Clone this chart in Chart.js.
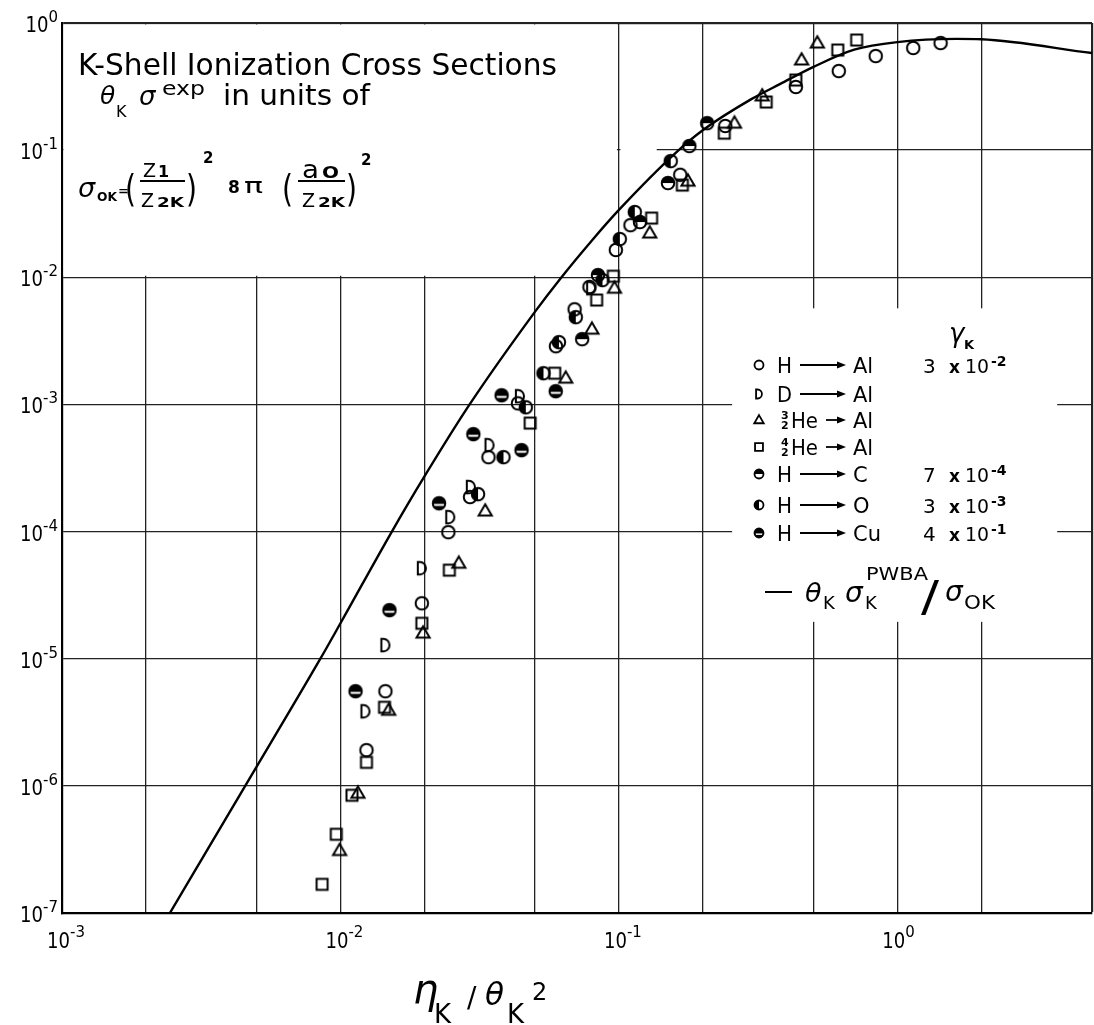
<!DOCTYPE html>
<html>
<head>
<meta charset="utf-8">
<script src="https://cdn.jsdelivr.net/npm/chart.js@4.4.1/dist/chart.umd.min.js"></script>
<style>
  html, body { margin: 0; padding: 0; background: #fff; }
</style>
</head>
<body>
<canvas id="myChart" width="1094" height="1025"></canvas>
<script>
// axis decades and grid positions
const xExponents = [-3, -2, -1, 0];
const yExponents = [0, -1, -2, -3, -4, -5, -6, -7];
const xGrid = [0.001, 0.002, 0.005, 0.01, 0.02, 0.05, 0.1, 0.2, 0.5, 1, 2, 5];
const yGrid = [1, 1e-1, 1e-2, 1e-3, 1e-4, 1e-5, 1e-6, 1e-7];

// PWBA theory curve
const pwbaX = [0.00244, 0.00455, 0.00847, 0.01, 0.0153, 0.02, 0.0291, 0.05, 0.0617, 0.08, 0.1, 0.161, 0.2, 0.3, 0.38, 0.5, 0.7, 1.0, 1.63, 2.0, 5.0];
const pwbaY = [1e-7, 1e-6, 1e-5, 1.9e-5, 1e-4, 2.7e-4, 1e-3, 5.37e-3, 9.8e-3, 1.95e-2, 3.39e-2, 9.66e-2, 0.1435, 0.253, 0.332, 0.452, 0.617, 0.708, 0.75, 0.745, 0.58];

// measured points
const hAlX = [0.0124, 0.0145, 0.0196, 0.0244, 0.0292, 0.034, 0.0434, 0.0594, 0.0693, 0.0784, 0.0975, 0.11, 0.166, 0.241, 0.432, 0.616, 0.836, 1.14, 1.43];
const hAlY = [1.91e-6, 5.55e-6, 2.73e-5, 9.9e-5, 1.87e-4, 3.85e-4, 1.02e-3, 2.87e-3, 5.6e-3, 8.4e-3, 1.64e-2, 2.57e-2, 6.4e-2, 0.155, 0.314, 0.419, 0.55, 0.636, 0.696];

const dAlX = [0.0123, 0.0145, 0.0196, 0.0248, 0.0294, 0.0343, 0.0441, 0.0795];
const dAlY = [3.86e-6, 1.28e-5, 5.15e-5, 1.3e-4, 2.24e-4, 4.78e-4, 1.16e-3, 8.2e-3];

const he3AlX = [0.00993, 0.01155, 0.0149, 0.0198, 0.0266, 0.0331, 0.0644, 0.08, 0.0964, 0.129, 0.177, 0.26, 0.327, 0.453, 0.516];
const he3AlY = [3.1e-7, 8.75e-7, 3.93e-6, 1.59e-5, 5.64e-5, 1.45e-4, 1.61e-3, 3.91e-3, 8.2e-3, 2.23e-2, 5.7e-2, 0.163, 0.267, 0.512, 0.696];

const he4AlX = [0.00859, 0.00966, 0.011, 0.0124, 0.0144, 0.0196, 0.0246, 0.048, 0.0588, 0.0832, 0.0955, 0.131, 0.169, 0.239, 0.338, 0.432, 0.611, 0.714];
const he4AlY = [1.68e-7, 4.16e-7, 8.43e-7, 1.53e-6, 4.15e-6, 1.9e-5, 4.97e-5, 7.13e-4, 1.76e-3, 6.62e-3, 1.02e-2, 2.92e-2, 5.31e-2, 0.136, 0.239, 0.356, 0.613, 0.735];

const hCX = [0.0738, 0.0841, 0.119, 0.15, 0.179, 0.2075];
const hCY = [3.26e-3, 1.04e-2, 2.72e-2, 5.51e-2, 0.1077, 0.163];

const hOX = [0.0312, 0.0385, 0.0463, 0.0536, 0.0609, 0.07, 0.0873, 0.1007, 0.114, 0.1535];
const hOY = [1.97e-4, 3.85e-4, 9.5e-4, 1.76e-3, 3.09e-3, 4.86e-3, 9.5e-3, 2.0e-2, 3.26e-2, 8.2e-2];

const hCuX = [0.01133, 0.015, 0.0226, 0.03, 0.0379, 0.0447, 0.0593];
const hCuY = [5.55e-6, 2.41e-5, 1.67e-4, 5.84e-4, 1.18e-3, 4.37e-4, 1.27e-3];

// legend rows
const projectiles = ['H', 'D', '3He', '4He', 'H', 'H', 'H'];
const targets = ['Al', 'Al', 'Al', 'Al', 'C', 'O', 'Cu'];
const gammaMant = ['3', '', '', '', '7', '3', '4'];
const gammaExp = ['-2', '', '', '', '-4', '-3', '-1'];
const markerKinds = ['circle', 'dee', 'triangle', 'square', 'halfTop', 'halfLeft', 'band'];

const FONT = '"DejaVu Sans", sans-serif';

function makeMarker(kind, d, lw) {
  const s = Math.ceil(d + lw + 3);
  const c = document.createElement('canvas');
  c.width = s; c.height = s;
  const g = c.getContext('2d');
  const m = s / 2, r = d / 2;
  g.lineWidth = lw;
  g.strokeStyle = '#000';
  g.fillStyle = '#000';
  g.beginPath();
  if (kind === 'circle') {
    g.arc(m, m, r, 0, Math.PI * 2);
  } else if (kind === 'halfTop' || kind === 'halfLeft') {
    const a = kind === 'halfTop' ? [Math.PI, Math.PI * 2] : [Math.PI / 2, Math.PI * 1.5];
    g.moveTo(m, m);
    g.arc(m, m, r, a[0], a[1]);
    g.closePath();
    g.fill();
    g.beginPath();
    g.arc(m, m, r, 0, Math.PI * 2);
  } else if (kind === 'band') {
    g.arc(m, m, r, 0, Math.PI * 2);
    g.fill();
    g.fillStyle = '#fff';
    g.fillRect(m - r + lw * 0.6, m + r * 0.1, 2 * r - lw * 1.2, r * 0.32);
    g.beginPath();
    g.arc(m, m, r, 0, Math.PI * 2);
  } else if (kind === 'triangle') {
    const h = d * 0.9;
    g.moveTo(m, m - h * 0.6);
    g.lineTo(m + r * 1.05, m + h * 0.4);
    g.lineTo(m - r * 1.05, m + h * 0.4);
    g.closePath();
  } else if (kind === 'square') {
    g.rect(m - r * 0.88, m - r * 0.88, r * 1.76, r * 1.76);
  } else if (kind === 'dee') {
    // letter D: straight back, rounded bowl
    const x0 = m - r * 0.65;
    g.moveTo(x0, m + r);
    g.lineTo(x0, m - r);
    g.lineTo(x0 + r * 0.35, m - r);
    g.ellipse(x0 + r * 0.35, m, r * 0.95, r, 0, -Math.PI / 2, Math.PI / 2);
    g.closePath();
  }
  g.stroke();
  return c;
}

const bigMarks = {};
const smallMarks = {};
markerKinds.forEach(k => {
  bigMarks[k] = makeMarker(k, 12.5, 2);
  smallMarks[k] = makeMarker(k, 9, 1.8);
});

function pts(xs, ys) {
  return xs.map((x, i) => ({x: x, y: ys[i]}));
}

function put(ctx, s, x, y, size, o) {
  o = o || {};
  ctx.font = (o.it ? 'italic ' : '') + (o.b ? 'bold ' : '') + size + 'px ' + FONT;
  ctx.textAlign = 'left';
  ctx.textBaseline = 'alphabetic';
  const m = ctx.measureText(s).width;
  if (o.w) {
    ctx.save();
    ctx.translate(x, y);
    ctx.scale(o.w / m, 1);
    ctx.fillText(s, 0, 0);
    ctx.restore();
    return x + o.w;
  }
  ctx.fillText(s, x, y);
  return x + m;
}

function hline(ctx, x1, x2, y, lw) {
  ctx.lineWidth = lw;
  ctx.beginPath();
  ctx.moveTo(x1, y);
  ctx.lineTo(x2, y);
  ctx.stroke();
}

function arrow(ctx, x1, x2, y) {
  hline(ctx, x1, x2 - 6, y, 1.8);
  ctx.beginPath();
  ctx.moveTo(x2, y);
  ctx.lineTo(x2 - 9, y - 3.5);
  ctx.lineTo(x2 - 9, y + 3.5);
  ctx.closePath();
  ctx.fill();
}

const paper = {
  id: 'paper',
  beforeDatasetsDraw(chart) {
    // blank the grid behind the heading and the key
    const {ctx, chartArea, scales: {x, y}} = chart;
    ctx.save();
    ctx.fillStyle = '#fff';
    const l = chartArea.left + 1.5, t = chartArea.top + 1.5;
    ctx.fillRect(l, t, x.getPixelForValue(0.1) - 2 - l, y.getPixelForValue(0.01) - 1.5 - t);
    const yTenth = y.getPixelForValue(0.1);
    ctx.fillRect(x.getPixelForValue(0.1) + 1.5, yTenth - 2, x.getPixelForValue(0.135) - x.getPixelForValue(0.1), 4);
    const kx1 = x.getPixelForValue(0.255), kx2 = x.getPixelForValue(3.75);
    const ky1 = y.getPixelForValue(5.7e-3), ky2 = y.getPixelForValue(1.95e-5);
    ctx.fillRect(kx1, ky1, kx2 - kx1, ky2 - ky1);
    ctx.restore();
  },
  afterDraw(chart) {
    const {ctx, scales: {x, y}} = chart;
    ctx.save();
    ctx.fillStyle = '#000';
    ctx.strokeStyle = '#000';

    // tick labels
    yExponents.forEach(e => {
      const py = y.getPixelForValue(Math.pow(10, e));
      ctx.font = '15px ' + FONT;
      const ws = ctx.measureText(String(e)).width;
      const x0 = 58 - ws - 23;
      put(ctx, '10', x0, py + 9, 22, {w: 23});
      put(ctx, String(e), x0 + 23, py - 1, 15);
    });
    xExponents.forEach(e => {
      const px = x.getPixelForValue(Math.pow(10, e));
      put(ctx, '10', px - 15, 948, 22, {w: 23});
      put(ctx, String(e), px + 8, 937, 15);
    });

    // axis title
    put(ctx, 'η', 413, 1003, 40, {it: true});
    put(ctx, 'K', 434, 1023, 26);
    put(ctx, '/', 467, 1007, 28);
    put(ctx, 'θ', 485, 1005, 31, {it: true});
    put(ctx, 'K', 507, 1023, 26);
    put(ctx, '2', 532, 1000, 24);

    // heading
    put(ctx, 'K-Shell Ionization Cross Sections', 78, 75, 30, {w: 479});
    put(ctx, 'θ', 100, 104, 25, {it: true});
    put(ctx, 'K', 116, 117, 16);
    put(ctx, 'σ', 139, 105, 26, {it: true});
    put(ctx, 'exp', 162, 95, 19, {w: 43});
    put(ctx, 'in units of', 223, 105, 29, {w: 147});

    // sigma_0K definition
    put(ctx, 'σ', 78, 197, 27, {it: true});
    put(ctx, 'OK', 97, 201, 13, {b: true, w: 20});
    put(ctx, '=', 118, 195, 13, {b: true});
    put(ctx, '(', 125, 201, 38, {w: 11});
    put(ctx, 'Z', 143, 177, 19);
    put(ctx, '1', 158, 177, 16, {b: true});
    hline(ctx, 140, 185, 181, 2);
    put(ctx, 'Z', 141, 207, 19);
    put(ctx, '2K', 157, 207, 14, {b: true, w: 27});
    put(ctx, ')', 186, 201, 38, {w: 11});
    put(ctx, '2', 203, 163, 15, {b: true});
    put(ctx, '8', 228, 193, 17, {b: true});
    put(ctx, 'π', 244, 193, 22, {w: 19});
    put(ctx, '(', 282, 201, 38, {w: 11});
    put(ctx, 'a', 302, 178, 24, {w: 17});
    put(ctx, 'O', 322, 178, 15, {b: true, w: 17});
    hline(ctx, 298, 345, 181, 2);
    put(ctx, 'Z', 302, 207, 19);
    put(ctx, '2K', 318, 207, 14, {b: true, w: 27});
    put(ctx, ')', 346, 201, 38, {w: 11});
    put(ctx, '2', 361, 165, 15, {b: true});

    // key
    put(ctx, 'γ', 949, 342, 26, {it: true});
    put(ctx, 'K', 964, 349, 13, {b: true});
    const rowY = [365, 394, 420, 447, 474, 505, 533];
    projectiles.forEach((p, i) => {
      const cy = rowY[i];
      const mk = smallMarks[markerKinds[i]];
      ctx.drawImage(mk, 759 - mk.width / 2, cy - mk.height / 2);
      let ax = 800;
      if (p.indexOf('He') > 0) {
        put(ctx, p[0], 781, cy - 1, 11, {b: true});
        put(ctx, '2', 781, cy + 9, 11, {b: true});
        put(ctx, 'He', 791, cy + 8, 21, {w: 27});
        ax = 826;
      } else {
        put(ctx, p, 777, cy + 8, 21, {w: 15});
      }
      arrow(ctx, ax, 846, cy);
      put(ctx, targets[i], 853, cy + 8, 21);
      if (gammaMant[i]) {
        put(ctx, gammaMant[i], 923, cy + 8, 20);
        put(ctx, 'x', 949, cy + 8, 17, {b: true});
        put(ctx, '10', 965, cy + 8, 20, {w: 24});
        put(ctx, gammaExp[i], 991, cy + 1, 14, {b: true});
      }
    });

    // PWBA curve key
    hline(ctx, 765, 792, 592, 2);
    put(ctx, 'θ', 805, 602, 27, {it: true});
    put(ctx, 'K', 823, 609, 18);
    put(ctx, 'σ', 845, 602, 28, {it: true});
    put(ctx, 'K', 865, 609, 18);
    put(ctx, 'PWBA', 866, 580, 17, {w: 62});
    put(ctx, '/', 921, 611, 42, {w: 18});
    put(ctx, 'σ', 945, 601, 28, {it: true});
    put(ctx, 'OK', 964, 609, 20, {w: 31});
    ctx.restore();
  }
};

function series(xs, ys, kind) {
  return {
    data: pts(xs, ys),
    pointStyle: bigMarks[kind],
    pointRadius: 7,
    showLine: false
  };
}

const ctx = document.getElementById('myChart').getContext('2d');

new Chart(ctx, {
  type: 'scatter',
  data: {
    datasets: [
      {
        data: pts(pwbaX, pwbaY),
        showLine: true,
        borderColor: '#000',
        borderWidth: 2.4,
        pointRadius: 0,
        cubicInterpolationMode: 'monotone',
        fill: false
      },
      series(hAlX, hAlY, 'circle'),
      series(dAlX, dAlY, 'dee'),
      series(he3AlX, he3AlY, 'triangle'),
      series(he4AlX, he4AlY, 'square'),
      series(hCX, hCY, 'halfTop'),
      series(hOX, hOY, 'halfLeft'),
      series(hCuX, hCuY, 'band')
    ]
  },
  options: {
    responsive: false,
    animation: false,
    devicePixelRatio: 1,
    layout: {
      autoPadding: false,
      padding: {left: 62, right: 2, top: 23, bottom: 112}
    },
    plugins: {
      legend: {display: false},
      tooltip: {enabled: false},
      title: {display: false}
    },
    scales: {
      x: {
        type: 'logarithmic',
        min: 0.001,
        max: 5,
        afterBuildTicks: s => { s.ticks = xGrid.map(v => ({value: v})); },
        ticks: {display: false},
        grid: {
          color: '#222',
          lineWidth: c => (c.tick && c.tick.value === 5 ? 2.2 : 1.3),
          drawTicks: false
        },
        border: {color: '#000', width: 2.2}
      },
      y: {
        type: 'logarithmic',
        min: 1e-7,
        max: 1,
        afterBuildTicks: s => { s.ticks = yGrid.map(v => ({value: v})); },
        ticks: {display: false},
        grid: {
          color: '#222',
          lineWidth: c => (c.tick && c.tick.value === 1 ? 2.2 : 1.3),
          drawTicks: false
        },
        border: {color: '#000', width: 2.2}
      }
    }
  },
  plugins: [paper]
});
</script>
</body>
</html>
